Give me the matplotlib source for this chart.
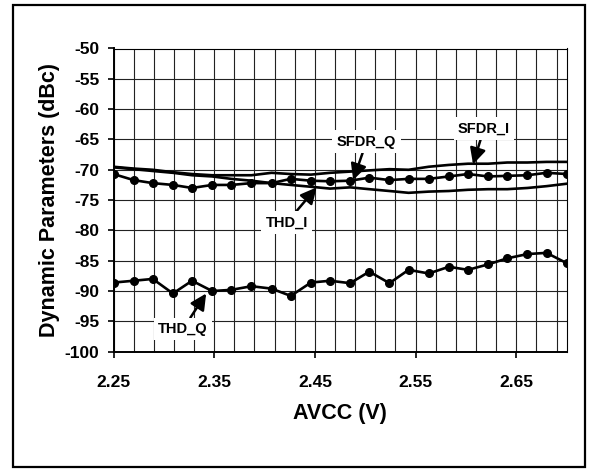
import matplotlib
matplotlib.use("Agg")
import matplotlib.pyplot as plt
import numpy as np
from matplotlib.patches import Rectangle

plt.rcParams['font.family'] = ['Liberation Sans', 'DejaVu Sans']
plt.rcParams['font.weight'] = 'bold'

avcc = [2.250, 2.270, 2.289, 2.309, 2.328, 2.348, 2.367, 2.387, 2.407, 2.426,
        2.446, 2.465, 2.485, 2.504, 2.524, 2.543, 2.563, 2.583, 2.602, 2.622,
        2.641, 2.661, 2.680, 2.700]

sfdr_q = [-70.7, -71.7, -72.2, -72.5, -73.0, -72.5, -72.5, -72.2, -72.2, -71.5,
          -71.8, -71.9, -71.8, -71.3, -71.7, -71.5, -71.5, -71.1, -70.7, -71.1,
          -71.0, -70.9, -70.5, -70.7]

thd_q = [-88.6, -88.3, -88.0, -90.4, -88.3, -90.0, -89.8, -89.2, -89.6, -90.8,
         -88.6, -88.3, -88.7, -86.8, -88.7, -86.5, -87.1, -86.0, -86.5, -85.6,
         -84.6, -83.9, -83.7, -85.4]

sfdr_i = [-69.5, -69.8, -70.0, -70.4, -70.7, -70.9, -70.9, -70.9, -70.5, -70.7,
          -70.8, -70.5, -70.3, -70.1, -69.9, -70.0, -69.5, -69.2, -69.0, -69.0,
          -68.8, -68.8, -68.7, -68.7]

thd_i = [-69.6, -69.9, -70.2, -70.5, -70.9, -71.1, -71.5, -71.8, -72.2, -72.5,
         -72.8, -73.1, -72.9, -73.2, -73.5, -73.8, -73.6, -73.5, -73.3, -73.2,
         -73.2, -73.0, -72.7, -72.3]

x_major = [2.25, 2.35, 2.45, 2.55, 2.65]
x_labels = ['2.25', '2.35', '2.45', '2.55', '2.65']
y_major = [-50, -55, -60, -65, -70, -75, -80, -85, -90, -95, -100]

W, H = 596, 472
fig = plt.figure(figsize=(W / 100, H / 100), dpi=100)
ax = fig.add_axes([113.5 / W, 1 - 351.7 / H, (566.7 - 113.5) / W, (351.7 - 48.5) / H])

# outer frame
fig.patches.append(Rectangle((13 / W, 5 / H), (585 - 13) / W, (467 - 5) / H,
                             transform=fig.transFigure, fill=False,
                             edgecolor='black', linewidth=1.6, zorder=10))

ax.set_xlim(2.25, 2.70)
ax.set_ylim(-100, -50)
ax.set_xticks(x_major)
ax.set_xticklabels(x_labels)
ax.set_xticks(np.arange(2.25, 2.695, 0.02), minor=True)
ax.set_yticks(y_major)
ax.set_yticklabels([str(v) for v in y_major])

ax.grid(True, which='both', color='#222222', linewidth=0.8, zorder=0)
ax.set_axisbelow(True)
ax.tick_params(axis='both', which='major', direction='out', length=4,
               width=1.2, labelsize=12.5, colors='black')
ax.tick_params(axis='x', which='major', pad=13)
ax.tick_params(axis='y', which='major', pad=6)
ax.tick_params(axis='both', which='minor', length=0)
for lab in ax.get_xticklabels() + ax.get_yticklabels():
    lab.set_fontweight('bold')

for s in ['top', 'right']:
    ax.spines[s].set_linewidth(0.8)
for s in ['left', 'bottom']:
    ax.spines[s].set_linewidth(1.4)

lw = 1.9
ax.plot(avcc, sfdr_i, color='black', lw=lw, zorder=3)
ax.plot(avcc, thd_i, color='black', lw=lw, zorder=3)
ax.plot(avcc, sfdr_q, color='black', lw=lw, marker='o', markersize=5.5, zorder=4)
ax.plot(avcc, thd_q, color='black', lw=lw, marker='o', markersize=5.5, zorder=4)

ax.set_xlabel('AVCC (V)', fontsize=15.5, fontweight='bold', labelpad=9)
ax.set_ylabel('Dynamic Parameters (dBc)', fontsize=15.5, fontweight='bold', labelpad=3.5)

bbox = dict(boxstyle='square,pad=0.3', facecolor='white', edgecolor='none')
arrow = dict(arrowstyle='-|>,head_length=0.6,head_width=0.3', lw=1.8,
             color='black', mutation_scale=16, shrinkA=0, shrinkB=0)


def px(xp, yp):
    return (xp / W, 1 - yp / H)


notes = [
    ('SFDR_Q', (2.488, -71.7), (366.5, 141.7)),
    ('SFDR_I', (2.607, -69.1), (484.0, 128.4)),
    ('THD_I', (2.4517, -72.9), (286.7, 222.7)),
    ('THD_Q', (2.342, -90.4), (183.0, 329.0)),
]
for txt, xy, tpos in notes:
    ax.annotate(txt, xy=xy, xycoords='data', xytext=px(*tpos),
                textcoords='figure fraction', ha='center', va='center',
                fontsize=10.5, fontweight='bold', bbox=bbox,
                arrowprops=arrow, zorder=6)

fig.savefig('out.png', dpi=100)
